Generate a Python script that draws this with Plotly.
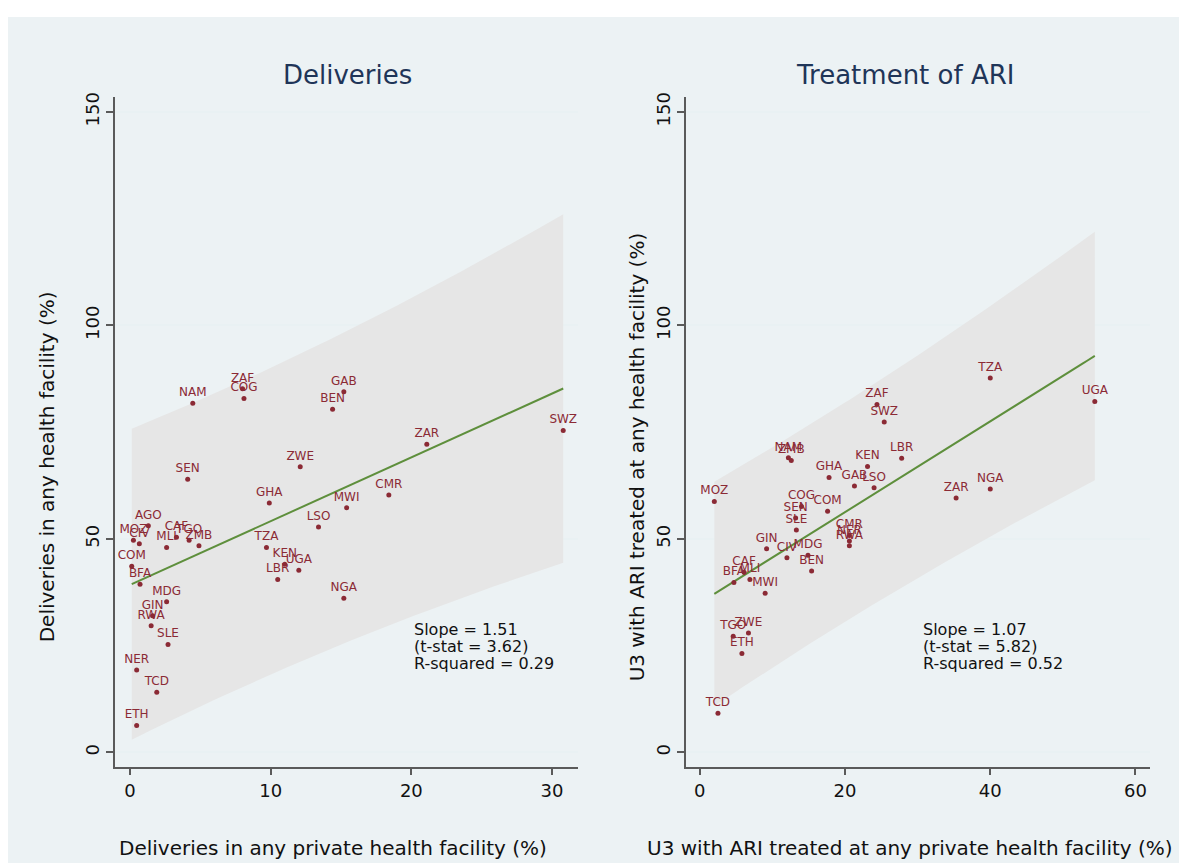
import numpy as np
import plotly.graph_objects as go

W, H = 1179, 863

# ---------------- Data ----------------
del_codes = ["NAM", "ZAF", "COG", "BEN", "GAB", "ZWE", "SEN", "GHA", "LSO", "MWI",
             "CMR", "ZAR", "SWZ", "TZA", "KEN", "UGA", "LBR", "NGA", "AGO", "MOZ",
             "CIV", "CAF", "TGO", "MLI", "ZMB", "COM", "BFA", "MDG", "GIN", "RWA",
             "SLE", "NER", "TCD", "ETH"]
del_private = [4.46, 8.0, 8.1, 14.4, 15.2, 12.1, 4.1, 9.9, 13.4, 15.4,
               18.4, 21.1, 30.8, 9.7, 11.0, 12.0, 10.5, 15.2, 1.3, 0.24,
               0.66, 3.3, 4.2, 2.6, 4.9, 0.12, 0.71, 2.6, 1.6, 1.5,
               2.7, 0.47, 1.9, 0.47]
del_any = [81.8, 85.2, 82.9, 80.4, 84.5, 66.9, 64.0, 58.4, 52.8, 57.3,
           60.3, 72.2, 75.4, 48.0, 44.1, 42.7, 40.5, 36.1, 53.1, 49.7,
           48.9, 50.4, 49.7, 48.0, 48.4, 43.6, 39.4, 35.3, 32.0, 29.7,
           25.3, 19.3, 14.1, 6.3]

ari_codes = ["MOZ", "NAM", "ZMB", "GHA", "GAB", "LSO", "KEN", "ZAF", "SWZ", "LBR",
             "TZA", "UGA", "ZAR", "NGA", "COM", "COG", "SEN", "SLE", "CMR", "NER",
             "RWA", "GIN", "CIV", "MDG", "BEN", "CAF", "BFA", "MLI", "MWI", "TGO",
             "ZWE", "ETH", "TCD"]
ari_private = [2.0, 12.2, 12.6, 17.8, 21.3, 24.0, 23.1, 24.4, 25.4, 27.8,
               40.0, 54.4, 35.3, 40.0, 17.6, 14.0, 13.2, 13.3, 20.6, 20.6,
               20.6, 9.2, 12.0, 14.9, 15.4, 6.1, 4.7, 6.9, 9.0, 4.6,
               6.7, 5.8, 2.5]
ari_any = [58.8, 69.0, 68.4, 64.4, 62.4, 62.0, 67.0, 81.5, 77.4, 68.9,
           87.7, 82.2, 59.6, 61.7, 56.5, 57.6, 54.9, 52.1, 50.8, 49.5,
           48.4, 47.7, 45.6, 46.2, 42.5, 42.2, 39.8, 40.5, 37.3, 27.2,
           28.0, 23.2, 9.2]

panel_titles = ["Deliveries", "Treatment of ARI"]
x_titles = ["Deliveries in any private health facility (%)",
            "U3 with ARI treated at any private health facility (%)"]
y_titles = ["Deliveries in any health facility (%)",
            "U3 with ARI treated at any health facility (%)"]
stats_lines = [["Slope = 1.51", "(t-stat = 3.62)", "R-squared = 0.29"],
               ["Slope = 1.07", "(t-stat = 5.82)", "R-squared = 0.52"]]
x_ticks = [[0, 10, 20, 30], [0, 20, 40, 60]]
y_ticks = [0, 50, 100, 150]
t_crit = [2.037, 2.040]  # 95% two-sided t critical values (df = n - 2)

# ---------------- Styling ----------------
FONT = "DejaVu Sans"
BG = "#ecf2f4"
MAROON = "#8b2a35"
GREEN = "#5e8f3c"
BAND = "#e6e6e6"
AXIS = "#5a5a5a"


def px(v):
    return v / W


def py(v):
    return 1 - v / H


def fit_band(x, y, tc):
    x = np.asarray(x, float)
    y = np.asarray(y, float)
    n = len(x)
    b, a = np.polyfit(x, y, 1)
    resid = y - (a + b * x)
    s = np.sqrt(np.sum(resid ** 2) / (n - 2))
    sxx = np.sum((x - x.mean()) ** 2)
    g = np.linspace(x.min(), x.max(), 100)
    fit = a + b * g
    se = s * np.sqrt(1 + 1 / n + (g - x.mean()) ** 2 / sxx)
    return g, fit, fit - tc * se, fit + tc * se


fig = go.Figure()

panels = [(del_codes, del_private, del_any), (ari_codes, ari_private, ari_any)]
xdomains = [[px(115), px(578)], [px(686), px(1150)]]
xranges = [[-1.07, 31.85], [-1.9, 62.0]]
yrange = [-3.3, 153.4]

for i, (codes, xs, ys) in enumerate(panels):
    xa = "x" if i == 0 else "x2"
    ya = "y" if i == 0 else "y2"
    g, fit, lo, hi = fit_band(xs, ys, t_crit[i])
    fig.add_trace(go.Scatter(
        x=np.concatenate([g, g[::-1]]), y=np.concatenate([hi, lo[::-1]]),
        fill="toself", fillcolor=BAND, line=dict(width=0), mode="lines",
        hoverinfo="skip", showlegend=False, xaxis=xa, yaxis=ya))
    fig.add_trace(go.Scatter(
        x=g, y=fit, mode="lines", line=dict(color=GREEN, width=2),
        showlegend=False, xaxis=xa, yaxis=ya))
    fig.add_trace(go.Scatter(
        x=xs, y=ys, text=codes, mode="markers+text", textposition="top center",
        marker=dict(color=MAROON, size=5),
        textfont=dict(family=FONT, size=12, color=MAROON),
        showlegend=False, xaxis=xa, yaxis=ya))

axis_common = dict(showline=True, linecolor=AXIS, linewidth=1.5, ticks="outside",
                   ticklen=7, tickwidth=1.5, tickcolor=AXIS, zeroline=False,
                   mirror=False, tickfont=dict(family=FONT, size=18, color="#111"))

for i in range(2):
    sfx = "" if i == 0 else "2"
    fig.layout["xaxis" + sfx] = dict(
        domain=xdomains[i], range=xranges[i], tickvals=x_ticks[i],
        showgrid=False, anchor="y" + sfx, **axis_common)
    fig.layout["yaxis" + sfx] = dict(
        domain=[py(766), py(93)], range=yrange, tickvals=y_ticks, tickangle=-90,
        showgrid=True, gridcolor="#e9f1f3", gridwidth=1.5,
        anchor="x" + sfx, **axis_common)

annotations = []
title_x = [347, 905]
xt_x = [333, 910]
yt_x = [47, 637]
yt_y = [465, 455]
stat_x = [412, 921]
stat_y = [628, 645, 662]
for i in range(2):
    annotations.append(dict(text=panel_titles[i], x=px(title_x[i]), y=py(70),
                            xref="paper", yref="paper", showarrow=False,
                            xanchor="center", yanchor="middle",
                            font=dict(family=FONT, size=26, color="#1f3558")))
    annotations.append(dict(text=x_titles[i], x=px(xt_x[i]), y=py(848),
                            xref="paper", yref="paper", showarrow=False,
                            xanchor="center", yanchor="middle",
                            font=dict(family=FONT, size=20, color="#111")))
    annotations.append(dict(text=y_titles[i], x=px(yt_x[i]), y=py(yt_y[i]),
                            xref="paper", yref="paper", showarrow=False, textangle=-90,
                            xanchor="center", yanchor="middle",
                            font=dict(family=FONT, size=20, color="#111")))
    for j, line in enumerate(stats_lines[i]):
        annotations.append(dict(text=line, x=px(stat_x[i]), y=py(stat_y[j]),
                                xref="paper", yref="paper", showarrow=False,
                                xanchor="left", yanchor="middle", align="left",
                                font=dict(family=FONT, size=16, color="#111")))

fig.update_layout(
    width=W, height=H, margin=dict(l=0, r=0, t=0, b=0),
    paper_bgcolor="white", plot_bgcolor="white",
    annotations=annotations,
    shapes=[dict(type="rect", xref="paper", yref="paper", x0=px(8), x1=1,
                 y0=0, y1=py(12), fillcolor=BG, line=dict(width=0), layer="below")],
)

fig.write_html(
    "out.html",
    config={"displayModeBar": False},
    post_script="document.body.style.margin='0';document.body.style.overflow='hidden';",
)
